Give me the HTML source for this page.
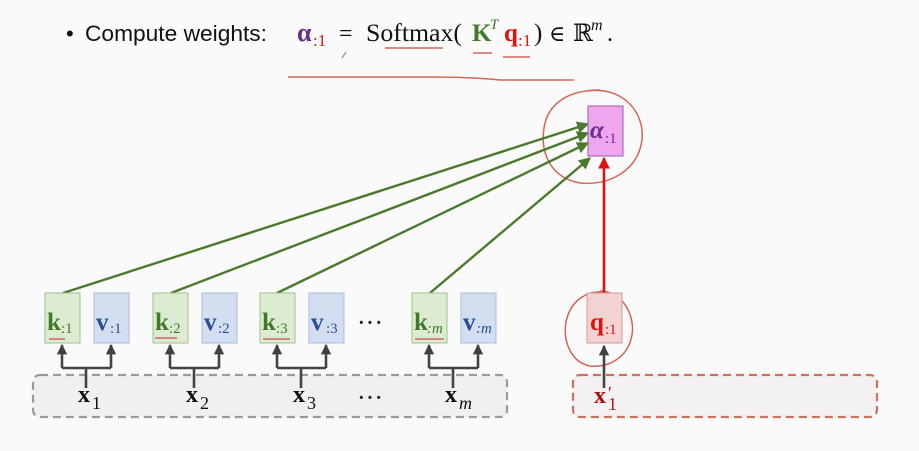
<!DOCTYPE html>
<html><head><meta charset="utf-8"><style>
html,body{margin:0;padding:0;background:#fafafa;}
svg{display:block}
.s{font-family:"Liberation Serif","DejaVu Serif",serif;}
.a{font-family:"Liberation Sans",sans-serif;}
</style></head><body>
<svg width="919" height="451" viewBox="0 0 919 451" xmlns="http://www.w3.org/2000/svg">
<defs>
<marker id="g" viewBox="0 0 10 10" refX="9" refY="5" markerWidth="5" markerHeight="5" orient="auto"><path d="M0,0 L10,5 L0,10 z" fill="#4a7a2c"/></marker>
<marker id="r" viewBox="0 0 10 10" refX="9" refY="5" markerWidth="4.5" markerHeight="4.5" orient="auto"><path d="M0,0 L10,5 L0,10 z" fill="#e0120e"/></marker>
<marker id="k" viewBox="0 0 10 10" refX="9" refY="5" markerWidth="4" markerHeight="4" orient="auto"><path d="M0,0 L10,5 L0,10 z" fill="#404040"/></marker>
</defs>
<rect width="919" height="451" fill="#fafafa"/>

<!-- title -->
<text x="66" y="41" class="a" font-size="22" fill="#111">•</text>
<text x="85" y="41" class="a" font-size="22" fill="#111" textLength="182" lengthAdjust="spacingAndGlyphs">Compute weights:</text>
<text x="297" y="41" class="s" font-size="26" font-weight="bold" fill="#6a2c91">α</text>
<text x="313" y="46" class="s" font-size="17" fill="#e0120e">:1</text>
<text x="339" y="41" class="s" font-size="24" fill="#111">=</text>
<text x="366" y="41" class="s" font-size="25" fill="#111" textLength="96" lengthAdjust="spacingAndGlyphs">Softmax(</text>
<text x="472" y="41" class="s" font-size="25" font-weight="bold" fill="#3f7a26">K</text>
<text x="490" y="29" class="s" font-size="15" font-style="italic" fill="#3f7a26">T</text>
<text x="504" y="41" class="s" font-size="25" font-weight="bold" fill="#e0120e">q</text>
<text x="518" y="46" class="s" font-size="17" fill="#e0120e">:1</text>
<text x="534" y="41" class="s" font-size="25" fill="#111">)</text>
<text x="549" y="41" class="s" font-size="22" fill="#111">∈</text>
<text x="573" y="41" class="s" font-size="24" fill="#111">ℝ</text>
<text x="591" y="30" class="s" font-size="16" font-style="italic" fill="#111">m</text>
<text x="607" y="41" class="s" font-size="24" fill="#111">.</text>
<!-- annotations -->
<g stroke="#d2645a" stroke-width="1.5" fill="none">
<path d="M385,48 L443,48"/>
<path d="M473,53 L492,53"/>
<path d="M503,57 L530,57"/>
<path d="M288,77 L430,77 Q470,77 500,80 L574,80"/>
<path d="M588,91 C620,86 645,110 642,140 C638,170 610,186 580,183 C552,178 540,155 544,128 C548,102 570,90 600,90"/>
<path d="M600,291 C625,292 635,318 632,335 C628,358 608,368 590,366 C570,362 563,340 566,322 C570,302 585,290 606,292"/>
</g>
<path d="M342,58 L346,52" stroke="#777" stroke-width="1" fill="none"/>

<!-- dashed containers -->
<rect x="33" y="375" width="474" height="42" rx="7" fill="#f0f0f0" stroke="#9a9a9a" stroke-width="2.2" stroke-dasharray="8,5"/>
<rect x="573" y="375" width="304" height="42" rx="7" fill="#f3f1f1" stroke="#d0705c" stroke-width="2.2" stroke-dasharray="8,5"/>

<!-- green lines -->
<g stroke="#4a7a2c" stroke-width="2.4" fill="none" marker-end="url(#g)">
<line x1="63" y1="293" x2="588" y2="124"/>
<line x1="171" y1="293" x2="588" y2="133"/>
<line x1="277" y1="293" x2="588" y2="143"/>
<line x1="430" y1="293" x2="590" y2="158"/>
</g>
<!-- red arrow -->
<line x1="604" y1="293" x2="604" y2="158" stroke="#e0120e" stroke-width="2.6" marker-end="url(#r)"/>

<!-- alpha box -->
<rect x="588" y="106" width="35" height="50" fill="#eea6ee" stroke="#9a5aae" stroke-width="1"/>
<text x="590" y="138" class="s" font-size="25" font-weight="bold" font-style="italic" fill="#6a2c91">α</text>
<text x="605" y="143" class="s" font-size="15" fill="#6a2c91">:1</text>

<!-- q box -->
<rect x="587" y="293" width="35" height="50" fill="#f3d2d2" stroke="#d89a9a" stroke-width="1"/>
<text x="590" y="330" class="s" font-size="25" font-weight="bold" fill="#e0120e">q</text>
<text x="605" y="334" class="s" font-size="15" fill="#e0120e">:1</text>

<!-- k/v boxes -->
<g stroke-width="1">
<rect x="45" y="293" width="35" height="50" fill="#dcebd2" stroke="#9cc08a"/>
<rect x="94" y="293" width="35" height="50" fill="#d3dff1" stroke="#a5bde0"/>
<rect x="153" y="293" width="35" height="50" fill="#dcebd2" stroke="#9cc08a"/>
<rect x="202" y="293" width="35" height="50" fill="#d3dff1" stroke="#a5bde0"/>
<rect x="260" y="293" width="35" height="50" fill="#dcebd2" stroke="#9cc08a"/>
<rect x="309" y="293" width="35" height="50" fill="#d3dff1" stroke="#a5bde0"/>
<rect x="412" y="293" width="35" height="50" fill="#dcebd2" stroke="#9cc08a"/>
<rect x="461" y="293" width="35" height="50" fill="#d3dff1" stroke="#a5bde0"/>
</g>
<g class="s" font-size="25" font-weight="bold">
<text x="47" y="330" fill="#3f7a26">k</text><text x="96" y="330" fill="#2a4f96">v</text>
<text x="155" y="330" fill="#3f7a26">k</text><text x="204" y="330" fill="#2a4f96">v</text>
<text x="262" y="330" fill="#3f7a26">k</text><text x="311" y="330" fill="#2a4f96">v</text>
<text x="414" y="330" fill="#3f7a26">k</text><text x="463" y="330" fill="#2a4f96">v</text>
</g>
<g class="s" font-size="15">
<text x="61" y="333" fill="#3f7a26">:1</text><text x="110" y="333" fill="#2a4f96">:1</text>
<text x="169" y="333" fill="#3f7a26">:2</text><text x="218" y="333" fill="#2a4f96">:2</text>
<text x="276" y="333" fill="#3f7a26">:3</text><text x="326" y="333" fill="#2a4f96">:3</text>
<text x="427" y="333" fill="#3f7a26" font-style="italic">:m</text><text x="476" y="333" fill="#2a4f96" font-style="italic">:m</text>
</g>
<g stroke="#d2645a" stroke-width="1.5">
<line x1="49" y1="339" x2="65" y2="339"/><line x1="155" y1="338" x2="177" y2="338"/>
<line x1="263" y1="339" x2="290" y2="339"/><line x1="415" y1="339" x2="444" y2="339"/>
</g>
<text x="358" y="329" class="s" font-size="20" font-weight="bold" fill="#222" letter-spacing="2">···</text>
<text x="358" y="404" class="s" font-size="20" font-weight="bold" fill="#222" letter-spacing="2">···</text>

<!-- fork arrows -->
<g stroke="#444" stroke-width="2.6" fill="none">
<path d="M86,388 L86,368 M62,368 L111,368"/>
<path d="M194,388 L194,368 M170,368 L219,368"/>
<path d="M301,388 L301,368 M277,368 L326,368"/>
<path d="M453,388 L453,368 M429,368 L478,368"/>
<path d="M604,388 L604,346" marker-end="url(#k)"/>
</g>
<g stroke="#444" stroke-width="2.6" marker-end="url(#k)">
<line x1="62" y1="368" x2="62" y2="345"/><line x1="111" y1="368" x2="111" y2="345"/>
<line x1="170" y1="368" x2="170" y2="345"/><line x1="219" y1="368" x2="219" y2="345"/>
<line x1="277" y1="368" x2="277" y2="345"/><line x1="326" y1="368" x2="326" y2="345"/>
<line x1="429" y1="368" x2="429" y2="345"/><line x1="478" y1="368" x2="478" y2="345"/>
</g>

<!-- x labels -->
<g class="s" font-size="24" font-weight="bold" fill="#111">
<text x="78" y="402">x</text><text x="186" y="402">x</text><text x="293" y="402">x</text><text x="445" y="402">x</text>
</g>
<g class="s" font-size="18" fill="#111">
<text x="92" y="409">1</text><text x="200" y="409">2</text><text x="307" y="409">3</text><text x="459" y="409" font-style="italic">m</text>
</g>
<text x="594" y="403" class="s" font-size="24" font-weight="bold" fill="#b01010">x</text>
<text x="608" y="399" class="s" font-size="18" fill="#b01010">′</text>
<text x="608" y="410" class="s" font-size="18" fill="#b01010">1</text>
</svg>
</body></html>
